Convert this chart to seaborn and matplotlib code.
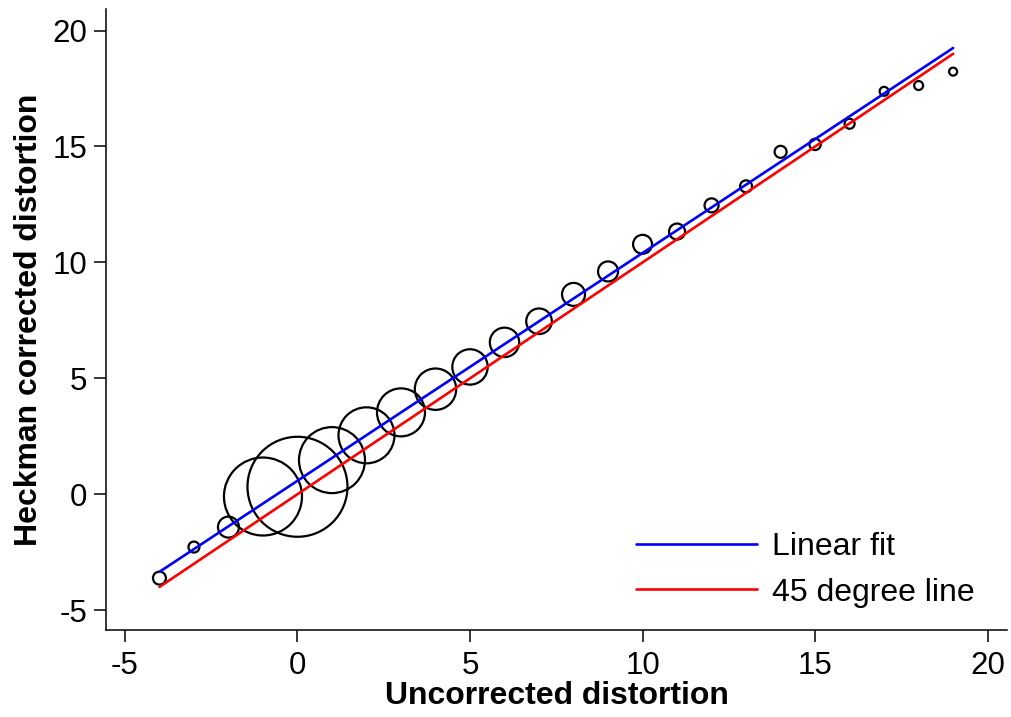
import numpy as np
import pandas as pd
import matplotlib
matplotlib.use("Agg")
import matplotlib.pyplot as plt
import seaborn as sns

# binned uncorrected distortion and mean Heckman-corrected distortion
uncorrected = [-4, -3, -2, -1, 0, 1, 2, 3, 4, 5, 6, 7, 8, 9, 10, 11, 12, 13, 14, 15, 16, 17, 18, 19]
corrected = [-3.62, -2.28, -1.42, -0.1, 0.32, 1.47, 2.54, 3.53, 4.53, 5.49, 6.55, 7.46,
             8.62, 9.61, 10.78, 11.33, 12.46, 13.28, 14.77, 15.09, 15.98, 17.38, 17.63, 18.23]
# number of observations per bin (marker area)
n_obs = [42, 30, 110, 1521, 2500, 1089, 784, 576, 428, 313, 216, 164,
         132, 100, 90, 64, 49, 36, 36, 32, 25, 20, 20, 16]

# fitted line endpoints and 45 degree line
line_x = [-4, 19]
fit_y = [-3.35, 19.25]
diag_y = [-4, 19]

x_ticks = [-5, 0, 5, 10, 15, 20]
y_ticks = [-5, 0, 5, 10, 15, 20]

sns.set_style("ticks")
plt.rcParams["font.family"] = ["Liberation Sans", "DejaVu Sans"]
plt.rcParams["axes.unicode_minus"] = False
plt.rcParams["text.color"] = "black"
plt.rcParams["axes.labelcolor"] = "black"
plt.rcParams["xtick.color"] = "black"
plt.rcParams["ytick.color"] = "black"

df = pd.DataFrame({"x": uncorrected, "y": corrected, "n": n_obs})

fig = plt.figure(figsize=(10.11, 7.17), dpi=100)
ax = fig.add_axes([0.1048, 0.1213, 0.8912, 0.8661])

# marker area in pt^2 proportional to n (px radius^2 -> pt^2)
k = (2 * 0.72) ** 2
sns.scatterplot(data=df, x="x", y="y", size="n",
                sizes=(k * min(n_obs), k * max(n_obs)),
                size_norm=(min(n_obs), max(n_obs)),
                facecolors="none", edgecolor="black", linewidth=1.6,
                legend=False, ax=ax, zorder=2)

sns.lineplot(x=line_x, y=fit_y, color="blue", lw=1.9, ax=ax,
             label="Linear fit", zorder=3)
sns.lineplot(x=line_x, y=diag_y, color="red", lw=1.9, ax=ax,
             label="45 degree line", zorder=3)

ax.set_xlim(-5.55, 20.56)
ax.set_ylim(-5.86, 20.93)
ax.set_xticks(x_ticks)
ax.set_yticks(y_ticks)
ax.tick_params(labelsize=22.5, length=8.5, width=1.1, pad=5, color="black")
ax.tick_params(axis="x", pad=6.5)
for s in ["left", "bottom"]:
    ax.spines[s].set_linewidth(1.1)
    ax.spines[s].set_color("black")
sns.despine(ax=ax)

ax.set_xlabel("Uncorrected distortion", fontsize=23, fontweight="bold", labelpad=0)
ax.set_ylabel("Heckman corrected distortion", fontsize=23, fontweight="bold", labelpad=6)

ax.legend(loc="upper left", bbox_to_anchor=(0.588, 0.158), frameon=False,
          fontsize=23, handlelength=3.8, handletextpad=0.45,
          labelspacing=0.49, borderpad=0, borderaxespad=0)

fig.savefig("out.png", dpi=100)
